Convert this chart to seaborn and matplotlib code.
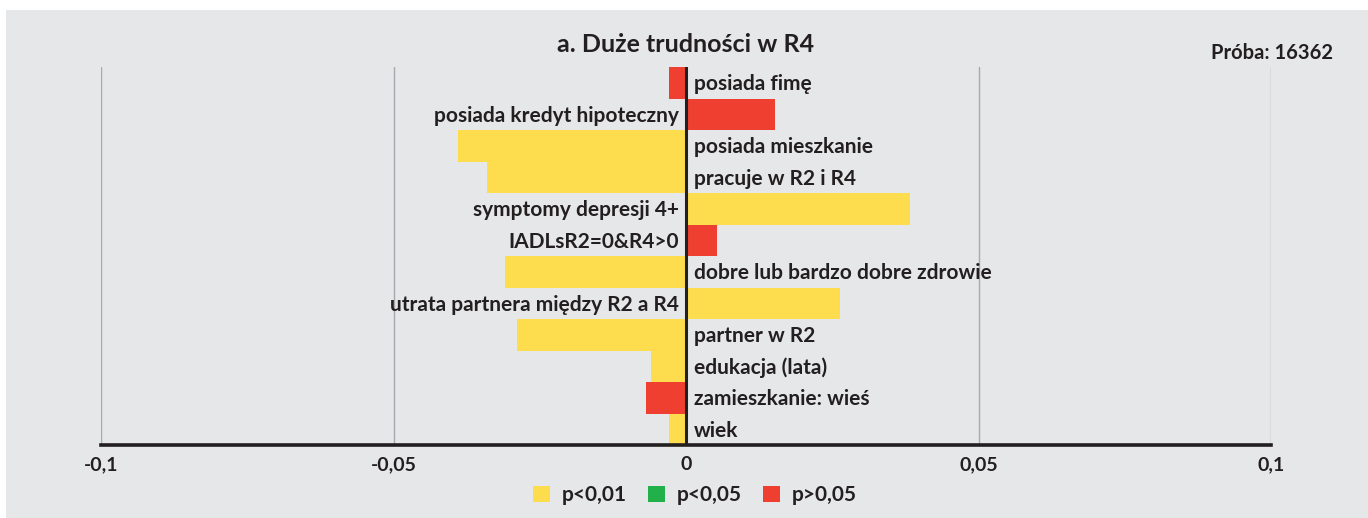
import matplotlib
matplotlib.use("Agg")
import matplotlib.pyplot as plt
import seaborn as sns
import pandas as pd
from matplotlib.patches import Patch, Rectangle

categories = ["posiada fimę", "posiada kredyt hipoteczny", "posiada mieszkanie",
              "pracuje w R2 i R4", "symptomy depresji 4+", "IADLsR2=0&R4>0",
              "dobre lub bardzo dobre zdrowie", "utrata partnera między R2 a R4",
              "partner w R2", "edukacja (lata)", "zamieszkanie: wieś", "wiek"]
values = [-0.0029, 0.0152, -0.039, -0.034, 0.0383, 0.0053,
          -0.031, 0.0263, -0.0289, -0.006, -0.0068, -0.0029]
significance = ["p>0,05", "p>0,05", "p<0,01", "p<0,01", "p<0,01", "p>0,05",
                "p<0,01", "p<0,01", "p<0,01", "p<0,01", "p>0,05", "p<0,01"]
legend_labels = ["p<0,01", "p<0,05", "p>0,05"]
legend_colors = ["#FDDD4E", "#22B04B", "#EE3F30"]
xticks = [-0.1, -0.05, 0, 0.05, 0.1]
xtick_labels = ["-0,1", "-0,05", "0", "0,05", "0,1"]
title = "a. Duże trudności w R4"
sample_text = "Próba: 16362"

sns.set_theme(style="white")
FONT = ["Lato", "DejaVu Sans"]
plt.rcParams["font.family"] = FONT
TXT = "#231F20"
BG = "#E6E7E8"

df = pd.DataFrame({"cat": categories, "val": values, "sig": significance})
palette = dict(zip(legend_labels, legend_colors))

fig = plt.figure(figsize=(13.68, 5.18), dpi=100, facecolor="white")
fig.patches.append(Rectangle((6 / 1368, 0), 1 - 6 / 1368, 1 - 10 / 518,
                             transform=fig.transFigure, facecolor=BG,
                             edgecolor="none", zorder=-10))
ax = fig.add_axes([101 / 1368, 1 - 445 / 518, 1170 / 1368, 378 / 518])
ax.set_facecolor(BG)

sns.barplot(data=df, y="cat", x="val", hue="sig", hue_order=legend_labels,
            palette=palette, dodge=False, width=1.0, orient="h",
            order=categories, legend=False, ax=ax, linewidth=0, saturation=1)

ax.set_xlim(-0.1, 0.1)
ax.set_ylim(len(categories) - 0.5, -0.5)
for x in [-0.1, -0.05, 0.05, 0.1]:
    ax.axvline(x, color="#A7A9AC", lw=1.0, zorder=0)
ax.axvline(0, color="#231F20", lw=2.2, zorder=3)

for s in ["top", "right", "left"]:
    ax.spines[s].set_visible(False)
ax.spines["bottom"].set_color("#231F20")
ax.spines["bottom"].set_linewidth(2.6)
ax.spines["bottom"].set_zorder(4)

ax.set_yticks([])
ax.set_ylabel("")
ax.set_xlabel("")
ax.set_xticks(xticks)
ax.set_xticklabels(xtick_labels, fontsize=14, fontweight="bold", color=TXT)
ax.tick_params(axis="x", length=0, pad=8)

for i, (c, v) in enumerate(zip(categories, values)):
    if v < 0:
        ax.text(0.0014, i + 0.05, c, ha="left", va="center", fontsize=15,
                fontweight="bold", color=TXT, zorder=5)
    else:
        ax.text(-0.0012, i + 0.05, c, ha="right", va="center", fontsize=15,
                fontweight="bold", color=TXT, zorder=5)

fig.text(686 / 1368, 1 - 45 / 518, title, ha="center", va="center",
         fontsize=18, fontweight="bold", color=TXT)
fig.text(1333 / 1368, 1 - 53 / 518, sample_text, ha="right", va="center",
         fontsize=14.5, fontweight="bold", color=TXT)

handles = [Patch(facecolor=c, edgecolor="none", label=l)
           for l, c in zip(legend_labels, legend_colors)]
leg = fig.legend(handles=handles, loc="center", ncol=3,
                 bbox_to_anchor=(695 / 1368, 1 - 495 / 518), frameon=False,
                 handlelength=0.8, handleheight=0.8, handletextpad=0.6,
                 columnspacing=1.0, prop={"family": FONT, "weight": "bold", "size": 15})
for t in leg.get_texts():
    t.set_color(TXT)

fig.savefig("out.png", dpi=100, facecolor="white")
